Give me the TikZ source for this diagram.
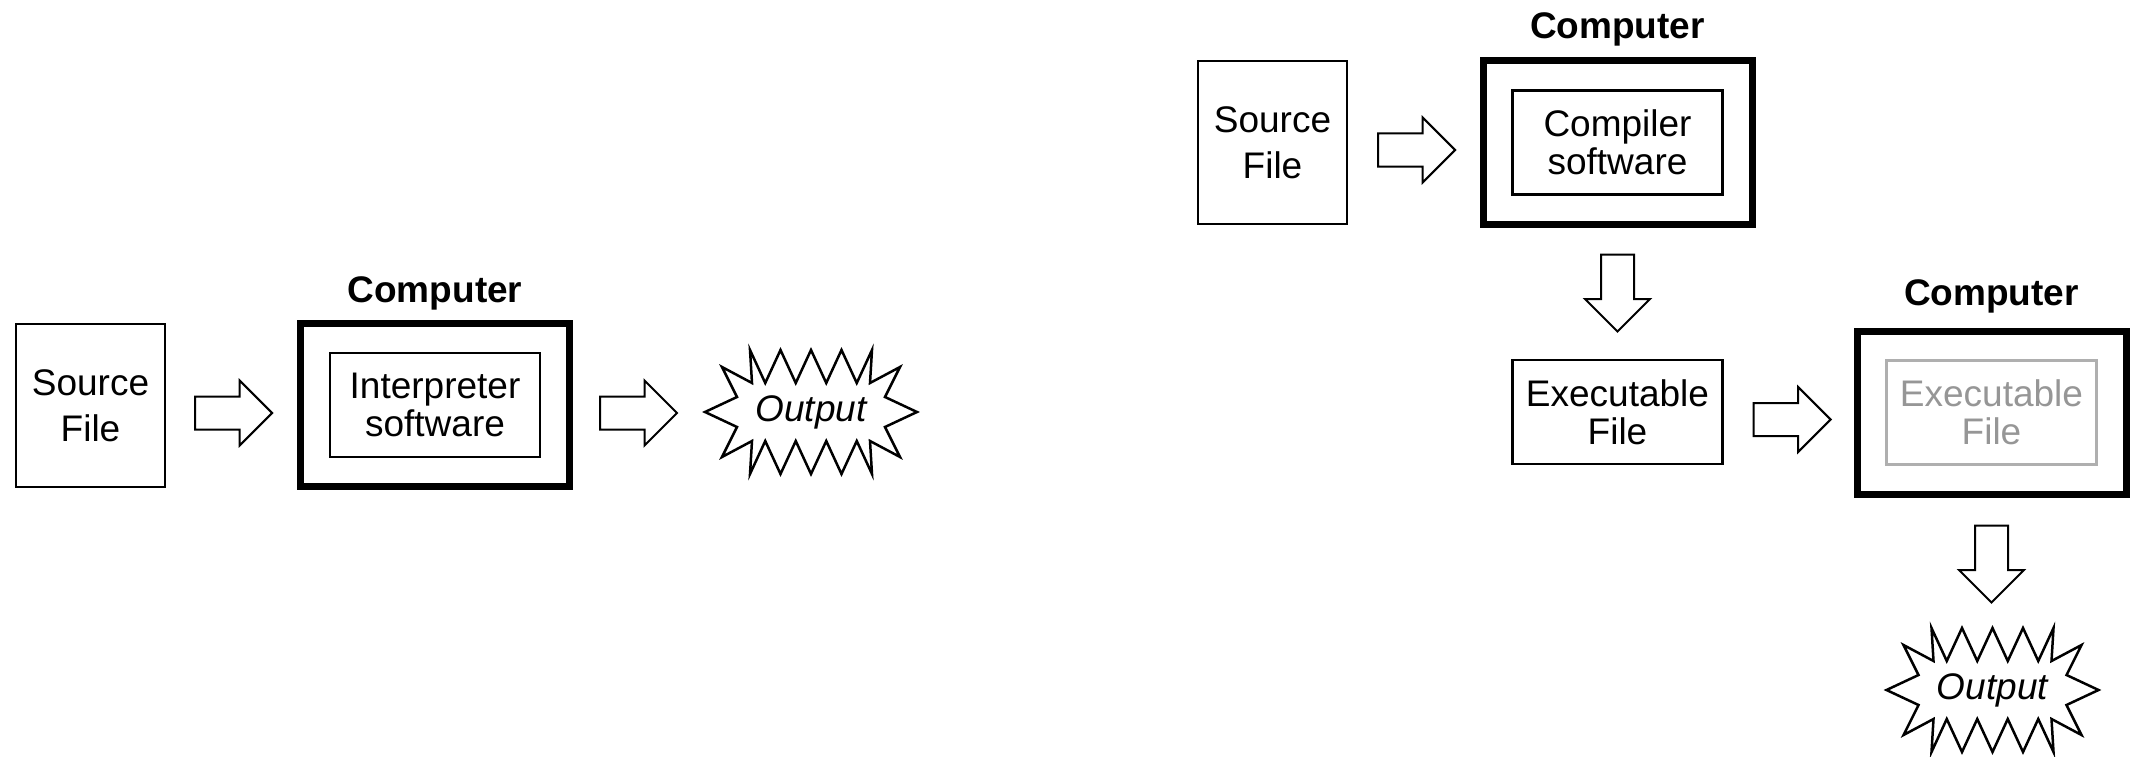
\documentclass[tikz,border=0pt]{standalone}
\usepackage{fontspec}
\setmainfont{Liberation Sans}
\usetikzlibrary{calc,shapes.arrows}

\definecolor{dimtext}{RGB}{150,150,150}
\definecolor{dimline}{RGB}{175,175,175}

\begin{document}
\begin{tikzpicture}[x=1pt, y=-1pt,
    every node/.style={font=\fontsize{37}{38}\selectfont},
    filebox/.style={draw, line width=2.2pt, align=center, inner sep=0pt},
    machine/.style={draw, line width=7pt, inner sep=0pt, minimum width=269pt, minimum height=163pt},
    softbox/.style={draw, line width=2.2pt, align=center, inner sep=0pt, minimum width=210pt, minimum height=104pt},
    title/.style={font=\fontsize{37}{38}\selectfont\bfseries, anchor=base},
    blockarrow/.style={single arrow, draw, line width=2pt, inner xsep=0pt, inner ysep=15.5pt,
        minimum height=77pt, minimum width=63pt, single arrow head extend=16pt, anchor=tail},
    burst/.style={minimum width=212pt, minimum height=124pt, inner sep=0pt,
        font=\fontsize{37}{38}\selectfont\itshape},
    burstline/.style={line width=2.5pt, line join=miter}
  ]
  \useasboundingbox (0,0) rectangle (2131,757);

  % Interpreter: source runs straight through
  \node[filebox, minimum width=149pt, minimum height=163pt, font=\fontsize{37}{46}\selectfont] (src1) at (90.5,405.5) {Source\\File};
  \node[machine] (comp1) at (435,405) {};
  \node[softbox] (soft1) at (comp1.center) {Interpreter\\software};
  \node[title] (title1) at ([yshift=18pt]comp1.north) {Computer};
  \node[burst] (out1) at (811,412) {Output};

  \node[blockarrow] (a1) at ([xshift=28pt, yshift=-7.5pt]src1.east) {};
  \node[blockarrow] (a2) at ([xshift=26pt, yshift=-8pt]comp1.east) {};

  % Compiler: translate first, run later
  \node[filebox, minimum width=149pt, minimum height=163pt, font=\fontsize{37}{46}\selectfont] (src2) at (1272.5,142.5) {Source\\File};
  \node[machine] (comp2) at (1617.5,142.5) {};
  \node[softbox] (soft2) at (comp2.center) {Compiler\\software};
  \node[title] (title2) at ([yshift=19pt]comp2.north) {Computer};

  \node[softbox] (exe) at (1617.5,412) {Executable\\File};

  \node[machine] (comp3) at (1991.5,412.5) {};
  \node[softbox, draw=dimline, text=dimtext] (soft3) at (comp3.center) {Executable\\File};
  \node[title] (title3) at ([yshift=22pt]comp3.north) {Computer};
  \node[burst] (out2) at (1992.5,690) {Output};

  \node[blockarrow] (a3) at ([xshift=29pt, yshift=-7.5pt]src2.east) {};
  \node[blockarrow, rotate=-90] (a4) at ([yshift=-26pt]comp2.south) {};
  \node[blockarrow] (a5) at ([xshift=29pt, yshift=-7.5pt]exe.east) {};
  \node[blockarrow, rotate=-90] (a6) at ([yshift=-27pt]comp3.south) {};

  % jagged outline round each output
  \foreach \o in {out1,out2}
    \draw[burstline, shift={(\o.center)}]
      (-106,0) -- (-74,-15) -- (-89,-45) -- (-59,-29) -- (-61,-62) -- (-45.75,-29)
      -- (-30.5,-62) -- (-15.25,-29) -- (0,-62) -- (15.25,-29) -- (30.5,-62)
      -- (45.75,-29) -- (61,-62) -- (59,-29) -- (89,-45) -- (74,-15) -- (106,0)
      -- (74,15) -- (89,45) -- (59,29) -- (61,62) -- (45.75,29) -- (30.5,62)
      -- (15.25,29) -- (0,62) -- (-15.25,29) -- (-30.5,62) -- (-45.75,29)
      -- (-61,62) -- (-59,29) -- (-89,45) -- (-74,15) -- cycle;
\end{tikzpicture}
\end{document}
